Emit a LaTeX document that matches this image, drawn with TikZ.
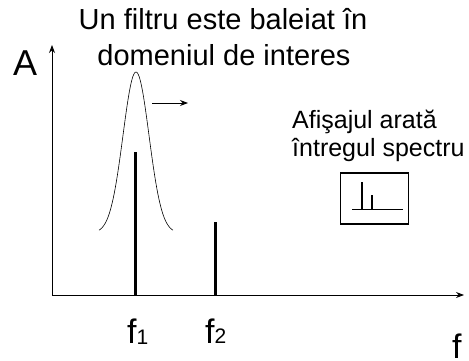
\documentclass[tikz,border=0pt]{standalone}
\usepackage{fontspec}
\setmainfont{Liberation Sans}
\usetikzlibrary{arrows.meta,positioning}

\begin{document}
\begin{tikzpicture}[x=1pt,y=1pt,>={Stealth[length=8pt,width=6pt]},
 axis/.style={->,line width=0.9pt},
 peak/.style={line width=3pt},
 lbl/.style={inner sep=0pt,anchor=base west},
 big/.style={font=\fontsize{29}{34}\selectfont},
 mid/.style={font=\fontsize{25}{28}\selectfont},
 sym/.style={font=\fontsize{34}{34}\selectfont}]
\useasboundingbox (0,0) rectangle (469,360);
% Frequency and amplitude axes.
\coordinate (origin) at (52,65);
\coordinate (ytop) at (52,315);
\coordinate (xend) at (464,65);
\draw[axis] (origin)--(ytop);
\draw[axis] (origin)--(xend);
\node[lbl,font=\fontsize{36}{36}\selectfont] (amp) at (13,285) {A};
\node[lbl,sym] (freq) at (452,2) {f};

% Spectral lines at f1 and f2.
\coordinate (fone) at (135,65);
\coordinate (ftwo) at (215,65);
\draw[peak] (fone)--++(0,143);
\draw[peak] (ftwo)--++(0,73);
\node[lbl,sym] (fonelabel) at (127,17)
  {f\raisebox{-1.5pt}{\fontsize{21}{21}\selectfont 1}};
\node[lbl,sym] (ftwolabel) at (205,17)
  {f{\fontsize{21}{21}\selectfont 2}};

% Swept filter response and its direction of motion.
\draw[line width=0.6pt] plot[domain=-37:37,samples=80,smooth]
  ({136+\x},{127+161*exp(-((\x)*(\x))/338)});
\coordinate (sweepa) at (152,257);
\coordinate (sweepb) at (188,257);
\draw[->,line width=1pt] (sweepa)--(sweepb);

% Captions.
\node[lbl,big,anchor=base] (title) at (223,331) {Un filtru este baleiat în};
\node[lbl,big,anchor=base] (titlesub) at (224,295) {domeniul de interes};
\node[lbl,mid] (note) at (292,232) {Afişajul arată};
\node[lbl,mid] (notesub) at (292,204) {întregul spectru};

% Display showing the whole spectrum.
\node[draw,line width=1.1pt,minimum width=68pt,minimum height=51pt,inner sep=0pt]
  (display) at (374.5,161.5) {};
\draw[line width=1pt] (352,151)--(403,151);
\draw[line width=1.5pt] (362,151)--(362,178);
\draw[line width=1.5pt] (372,151)--(372,165);
\end{tikzpicture}
\end{document}
